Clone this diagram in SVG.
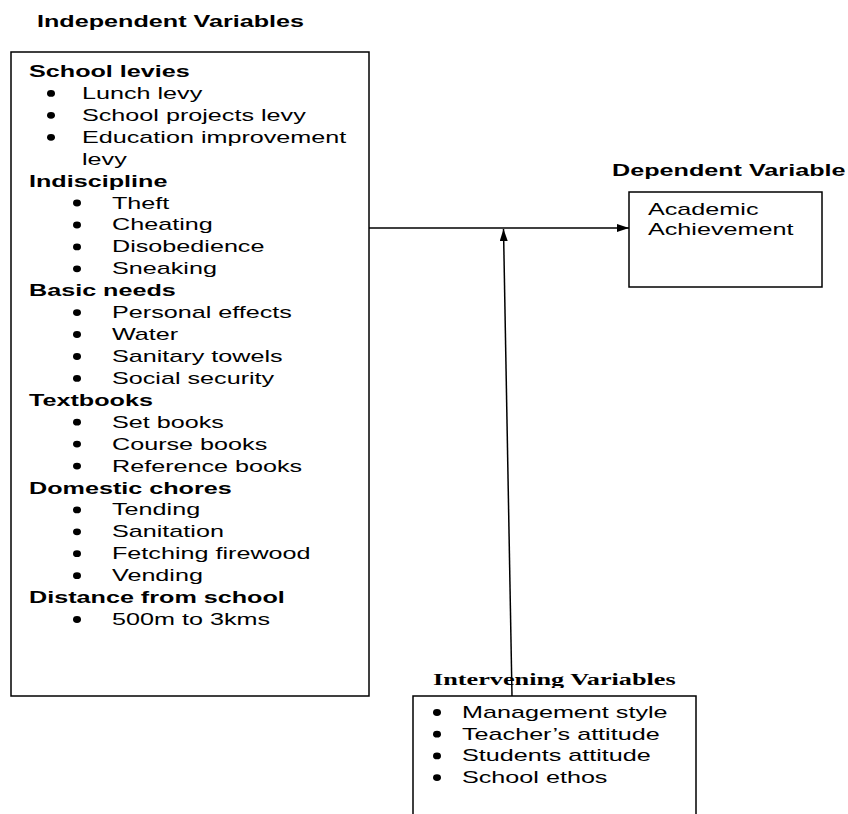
<svg xmlns="http://www.w3.org/2000/svg" width="848" height="814" viewBox="0 0 848 814">
<style>
.t{font-family:"Liberation Sans",Arial,sans-serif;font-size:17px;fill:#000}
.b{font-weight:bold}
.s{font-family:"Liberation Serif","Times New Roman",serif;font-size:17.5px;font-weight:bold;fill:#000}
.box{fill:none;stroke:#000;stroke-width:1.5}
.ln{fill:none;stroke:#000;stroke-width:1.5}
.dot{fill:#000}
</style>
<defs>
<marker id="ah" viewBox="0 0 12 8" refX="12" refY="4" markerWidth="12" markerHeight="8" markerUnits="userSpaceOnUse" orient="auto">
<path d="M0,0 L12,4 L0,8 Z" fill="#000"/>
</marker>
<clipPath id="ivclip" clipPathUnits="userSpaceOnUse"><rect x="400" y="640" width="320" height="48"/></clipPath>
</defs>
<rect width="848" height="814" fill="#fff"/>

<g id="independent">
<text class="t b" transform="translate(37 27) scale(1.48 1)">Independent Variables</text>
<rect class="box" x="11" y="52" width="358" height="644"/>
<text class="t b" transform="translate(29 77) scale(1.48 1)">School levies</text>
<ellipse class="dot" cx="51" cy="93.4" rx="4" ry="3.4"/>
<text class="t" transform="translate(82 98.9) scale(1.48 1)">Lunch levy</text>
<ellipse class="dot" cx="51" cy="115.3" rx="4" ry="3.4"/>
<text class="t" transform="translate(82 120.8) scale(1.48 1)">School projects levy</text>
<ellipse class="dot" cx="51" cy="137.3" rx="4" ry="3.4"/>
<text class="t" transform="translate(82 142.8) scale(1.48 1)">Education improvement</text>
<text class="t" transform="translate(82 164.7) scale(1.48 1)">levy</text>
<text class="t b" transform="translate(29 186.6) scale(1.48 1)">Indiscipline</text>
<ellipse class="dot" cx="77" cy="203" rx="4" ry="3.4"/>
<text class="t" transform="translate(112 208.5) scale(1.48 1)">Theft</text>
<ellipse class="dot" cx="77" cy="225" rx="4" ry="3.4"/>
<text class="t" transform="translate(112 230.4) scale(1.48 1)">Cheating</text>
<ellipse class="dot" cx="77" cy="246.9" rx="4" ry="3.4"/>
<text class="t" transform="translate(112 252.4) scale(1.48 1)">Disobedience</text>
<ellipse class="dot" cx="77" cy="268.8" rx="4" ry="3.4"/>
<text class="t" transform="translate(112 274.3) scale(1.48 1)">Sneaking</text>
<text class="t b" transform="translate(29 296.2) scale(1.48 1)">Basic needs</text>
<ellipse class="dot" cx="77" cy="312.6" rx="4" ry="3.4"/>
<text class="t" transform="translate(112 318.1) scale(1.48 1)">Personal effects</text>
<ellipse class="dot" cx="77" cy="334.5" rx="4" ry="3.4"/>
<text class="t" transform="translate(112 340) scale(1.48 1)">Water</text>
<ellipse class="dot" cx="77" cy="356.5" rx="4" ry="3.4"/>
<text class="t" transform="translate(112 362) scale(1.48 1)">Sanitary towels</text>
<ellipse class="dot" cx="77" cy="378.4" rx="4" ry="3.4"/>
<text class="t" transform="translate(112 383.9) scale(1.48 1)">Social security</text>
<text class="t b" transform="translate(29 405.8) scale(1.48 1)">Textbooks</text>
<ellipse class="dot" cx="77" cy="422.2" rx="4" ry="3.4"/>
<text class="t" transform="translate(112 427.7) scale(1.48 1)">Set books</text>
<ellipse class="dot" cx="77" cy="444.1" rx="4" ry="3.4"/>
<text class="t" transform="translate(112 449.6) scale(1.48 1)">Course books</text>
<ellipse class="dot" cx="77" cy="466.1" rx="4" ry="3.4"/>
<text class="t" transform="translate(112 471.6) scale(1.48 1)">Reference books</text>
<text class="t b" transform="translate(29 493.5) scale(1.48 1)">Domestic chores</text>
<ellipse class="dot" cx="77" cy="509.9" rx="4" ry="3.4"/>
<text class="t" transform="translate(112 515.4) scale(1.48 1)">Tending</text>
<ellipse class="dot" cx="77" cy="531.8" rx="4" ry="3.4"/>
<text class="t" transform="translate(112 537.3) scale(1.48 1)">Sanitation</text>
<ellipse class="dot" cx="77" cy="553.7" rx="4" ry="3.4"/>
<text class="t" transform="translate(112 559.2) scale(1.48 1)">Fetching firewood</text>
<ellipse class="dot" cx="77" cy="575.7" rx="4" ry="3.4"/>
<text class="t" transform="translate(112 581.2) scale(1.48 1)">Vending</text>
<text class="t b" transform="translate(29 603.1) scale(1.48 1)">Distance from school</text>
<ellipse class="dot" cx="77" cy="619.5" rx="4" ry="3.4"/>
<text class="t" transform="translate(112 625) scale(1.48 1)">500m to 3kms</text>
</g>

<g id="dependent">
<text class="t b" transform="translate(612 176) scale(1.48 1)">Dependent Variable</text>
<rect class="box" x="629" y="192" width="193" height="95"/>
<text class="t" transform="translate(648 215) scale(1.48 1)">Academic</text>
<text class="t" transform="translate(648 235) scale(1.48 1)">Achievement</text>
</g>

<g id="intervening">
<g clip-path="url(#ivclip)">
<text class="s" transform="translate(433 685) scale(1.5 1)">Intervening Variables</text>
</g>
<path class="box" d="M413,815 V696 H696 V815"/>
<ellipse class="dot" cx="437" cy="712.5" rx="4" ry="3.4"/>
<text class="t" transform="translate(462 718) scale(1.48 1)">Management style</text>
<ellipse class="dot" cx="437" cy="734.2" rx="4" ry="3.4"/>
<text class="t" transform="translate(462 739.7) scale(1.48 1)">Teacher’s attitude</text>
<ellipse class="dot" cx="437" cy="755.9" rx="4" ry="3.4"/>
<text class="t" transform="translate(462 761.4) scale(1.48 1)">Students attitude</text>
<ellipse class="dot" cx="437" cy="777.6" rx="4" ry="3.4"/>
<text class="t" transform="translate(462 783.1) scale(1.48 1)">School ethos</text>
</g>

<g id="connectors">
<line class="ln" x1="369" y1="228" x2="629" y2="228" marker-end="url(#ah)"/>
<line class="ln" x1="512" y1="696" x2="503.5" y2="229" marker-end="url(#ah)"/>
</g>
</svg>
